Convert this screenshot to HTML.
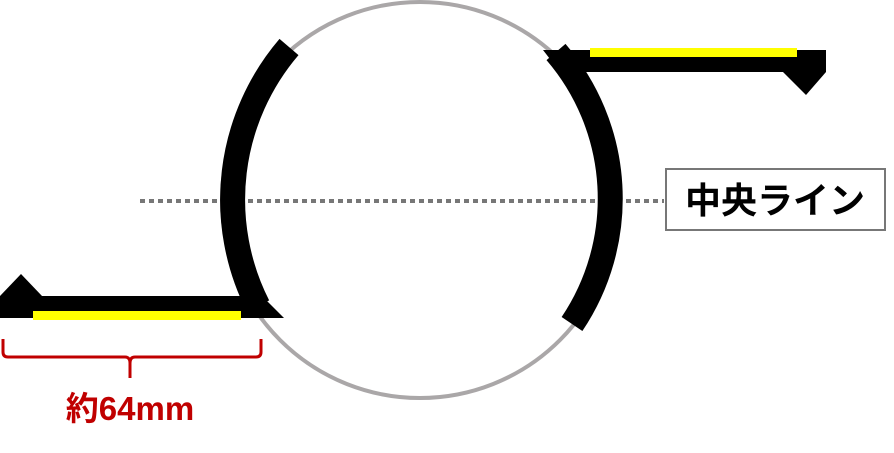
<!DOCTYPE html>
<html><head><meta charset="utf-8"><style>html,body{margin:0;padding:0;background:#fff}</style></head><body>
<svg width="894" height="448" viewBox="0 0 894 448" xmlns="http://www.w3.org/2000/svg">
<circle cx="420" cy="200" r="198" fill="none" stroke="#aaa7a8" stroke-width="4"/>
<line x1="140" y1="201" x2="664" y2="201" stroke="#777" stroke-width="4" stroke-dasharray="5,4"/>
<path d="M289,47 A235 235 0 0 0 258,306" fill="none" stroke="#000" stroke-width="25"/>
<path d="M556,52 A225 225 0 0 1 572,324" fill="none" stroke="#000" stroke-width="25"/>
<polygon points="0,296 0,318 284,318 262,296" fill="#000"/>
<polygon points="0,296 21,274 42,296" fill="#000"/>
<rect x="33" y="311" width="208" height="9" fill="#ffff00"/>
<polygon points="543,50 826,50 826,72 560,72" fill="#000"/>
<polygon points="783,72 826,72 806,95" fill="#000"/>
<rect x="590" y="48" width="207" height="9" fill="#ffff00"/>
<rect x="666" y="169" width="219" height="61" fill="#fff" stroke="#777" stroke-width="2"/>
<text x="775" y="213" text-anchor="middle" font-family="'Liberation Sans','Noto Sans CJK JP',sans-serif" font-weight="bold" font-size="36" fill="#000">中央ライン</text>
<path d="M3,339 V352 Q3,357 8,357 H125 Q130,357 130,363 V378 M130,363 Q130,357 135,357 H256 Q261,357 261,352 V339" fill="none" stroke="#c00000" stroke-width="3"/>
<text x="130" y="420" text-anchor="middle" font-family="'Liberation Sans','Noto Sans CJK JP',sans-serif" font-weight="bold" font-size="33" fill="#c00000">約64mm</text>
</svg>
</body></html>
